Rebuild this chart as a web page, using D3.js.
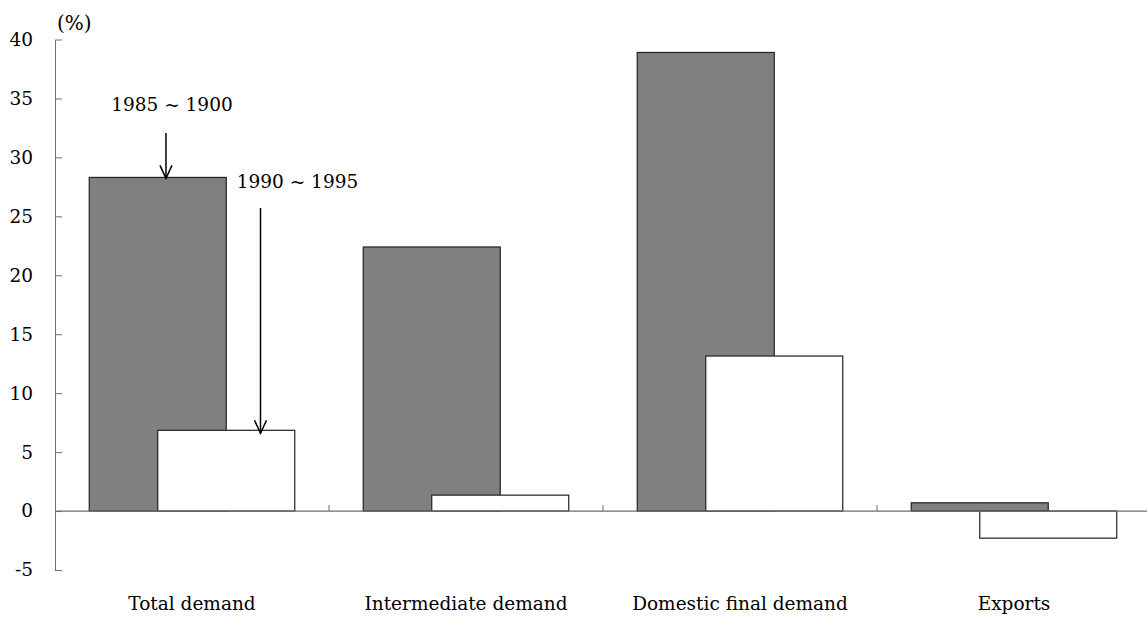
<!DOCTYPE html>
<html lang="en">
<head>
    <meta charset="UTF-8">
    <title>Demand growth</title>
    <script src="https://d3js.org/d3.v7.min.js"></script>
    <style>
        body {
            margin: 0;
            background-color: #ffffff;
        }
        svg text {
            font-family: "DejaVu Serif", serif;
            font-size: 18.5px;
            fill: #000;
        }
    </style>
</head>
<body>
    <svg id="chart" width="1147" height="619"></svg>
    <script>
        // data
        const categories = ['Total demand', 'Intermediate demand', 'Domestic final demand', 'Exports'];
        const period1 = [28.3, 22.4, 38.9, 0.7];   // 1985 ~ 1900 (grey)
        const period2 = [6.85, 1.35, 13.15, -2.3]; // 1990 ~ 1995 (white)
        const yTicks = [-5, 0, 5, 10, 15, 20, 25, 30, 35, 40];

        const svg = d3.select('#chart');
        const axisColor = '#6e6e6e';

        const x = d3.scaleBand()
                    .domain(categories)
                    .range([55, 1151])
                    .padding(0);
        const y = d3.scaleLinear()
                    .domain([-5, 40])
                    .range([570, 39.5]);

        const bw = x.bandwidth();
        const barW = bw * 0.5;
        const greyX = c => x(c) + bw * 0.125;
        const whiteX = c => x(c) + bw * 0.375;

        // y axis, ticks pointing inward
        const yAxis = svg.append('g')
            .attr('transform', 'translate(55,0)')
            .call(d3.axisLeft(y)
                .tickValues(yTicks)
                .tickFormat(d => String(d))
                .tickSize(-7)
                .tickPadding(22)
                .tickSizeOuter(0));
        yAxis.select('.domain').attr('stroke', axisColor);
        yAxis.selectAll('.tick line').attr('stroke', axisColor);
        yAxis.selectAll('.tick text').style('font-size', '18.5px').style('font-family', '"DejaVu Serif", serif');

        svg.append('text')
            .attr('x', 57)
            .attr('y', y(40) - 10)
            .style('font-size', '20px')
            .text('(%)');

        // grey bars
        svg.selectAll('.bar1')
            .data(categories)
            .join('rect')
            .attr('class', 'bar1')
            .attr('x', d => greyX(d))
            .attr('width', barW)
            .attr('y', (d, i) => y(Math.max(0, period1[i])))
            .attr('height', (d, i) => Math.abs(y(period1[i]) - y(0)))
            .attr('fill', '#808080')
            .attr('stroke', '#222')
            .attr('stroke-width', 1.2);

        // white bars
        svg.selectAll('.bar2')
            .data(categories)
            .join('rect')
            .attr('class', 'bar2')
            .attr('x', d => whiteX(d))
            .attr('width', barW)
            .attr('y', (d, i) => y(Math.max(0, period2[i])))
            .attr('height', (d, i) => Math.abs(y(period2[i]) - y(0)))
            .attr('fill', '#ffffff')
            .attr('stroke', '#222')
            .attr('stroke-width', 1.2);

        // zero line with category separators
        svg.append('line')
            .attr('x1', 55).attr('x2', 1151)
            .attr('y1', y(0)).attr('y2', y(0))
            .attr('stroke', axisColor)
            .attr('stroke-width', 1.2);
        svg.selectAll('.sep')
            .data(categories.slice(1))
            .join('line')
            .attr('class', 'sep')
            .attr('x1', d => x(d)).attr('x2', d => x(d))
            .attr('y1', y(0)).attr('y2', y(0) - 6)
            .attr('stroke', axisColor);

        // category labels
        svg.selectAll('.cat')
            .data(categories)
            .join('text')
            .attr('class', 'cat')
            .attr('x', d => x(d) + bw / 2)
            .attr('y', 610)
            .attr('text-anchor', 'middle')
            .text(d => d);

        // annotations with arrows
        function arrow(ax, y1, y2) {
            svg.append('line')
                .attr('x1', ax).attr('x2', ax)
                .attr('y1', y1).attr('y2', y2)
                .attr('stroke', '#000').attr('stroke-width', 1.5);
            svg.append('path')
                .attr('d', `M${ax - 6},${y2 - 13}L${ax},${y2}L${ax + 6},${y2 - 13}`)
                .attr('fill', 'none')
                .attr('stroke', '#000')
                .attr('stroke-width', 1.5);
        }
        const a1x = greyX(categories[0]) + barW * 0.56;
        arrow(a1x, 133, y(period1[0]) + 1);
        svg.append('text')
            .attr('x', a1x + 6).attr('y', 111)
            .attr('text-anchor', 'middle')
            .text('1985 ~ 1900');

        const a2x = whiteX(categories[0]) + barW * 0.75;
        arrow(a2x, 208, y(period2[0]) + 3);
        svg.append('text')
            .attr('x', a2x + 37).attr('y', 188)
            .attr('text-anchor', 'middle')
            .text('1990 ~ 1995');
    </script>
</body>
</html>
